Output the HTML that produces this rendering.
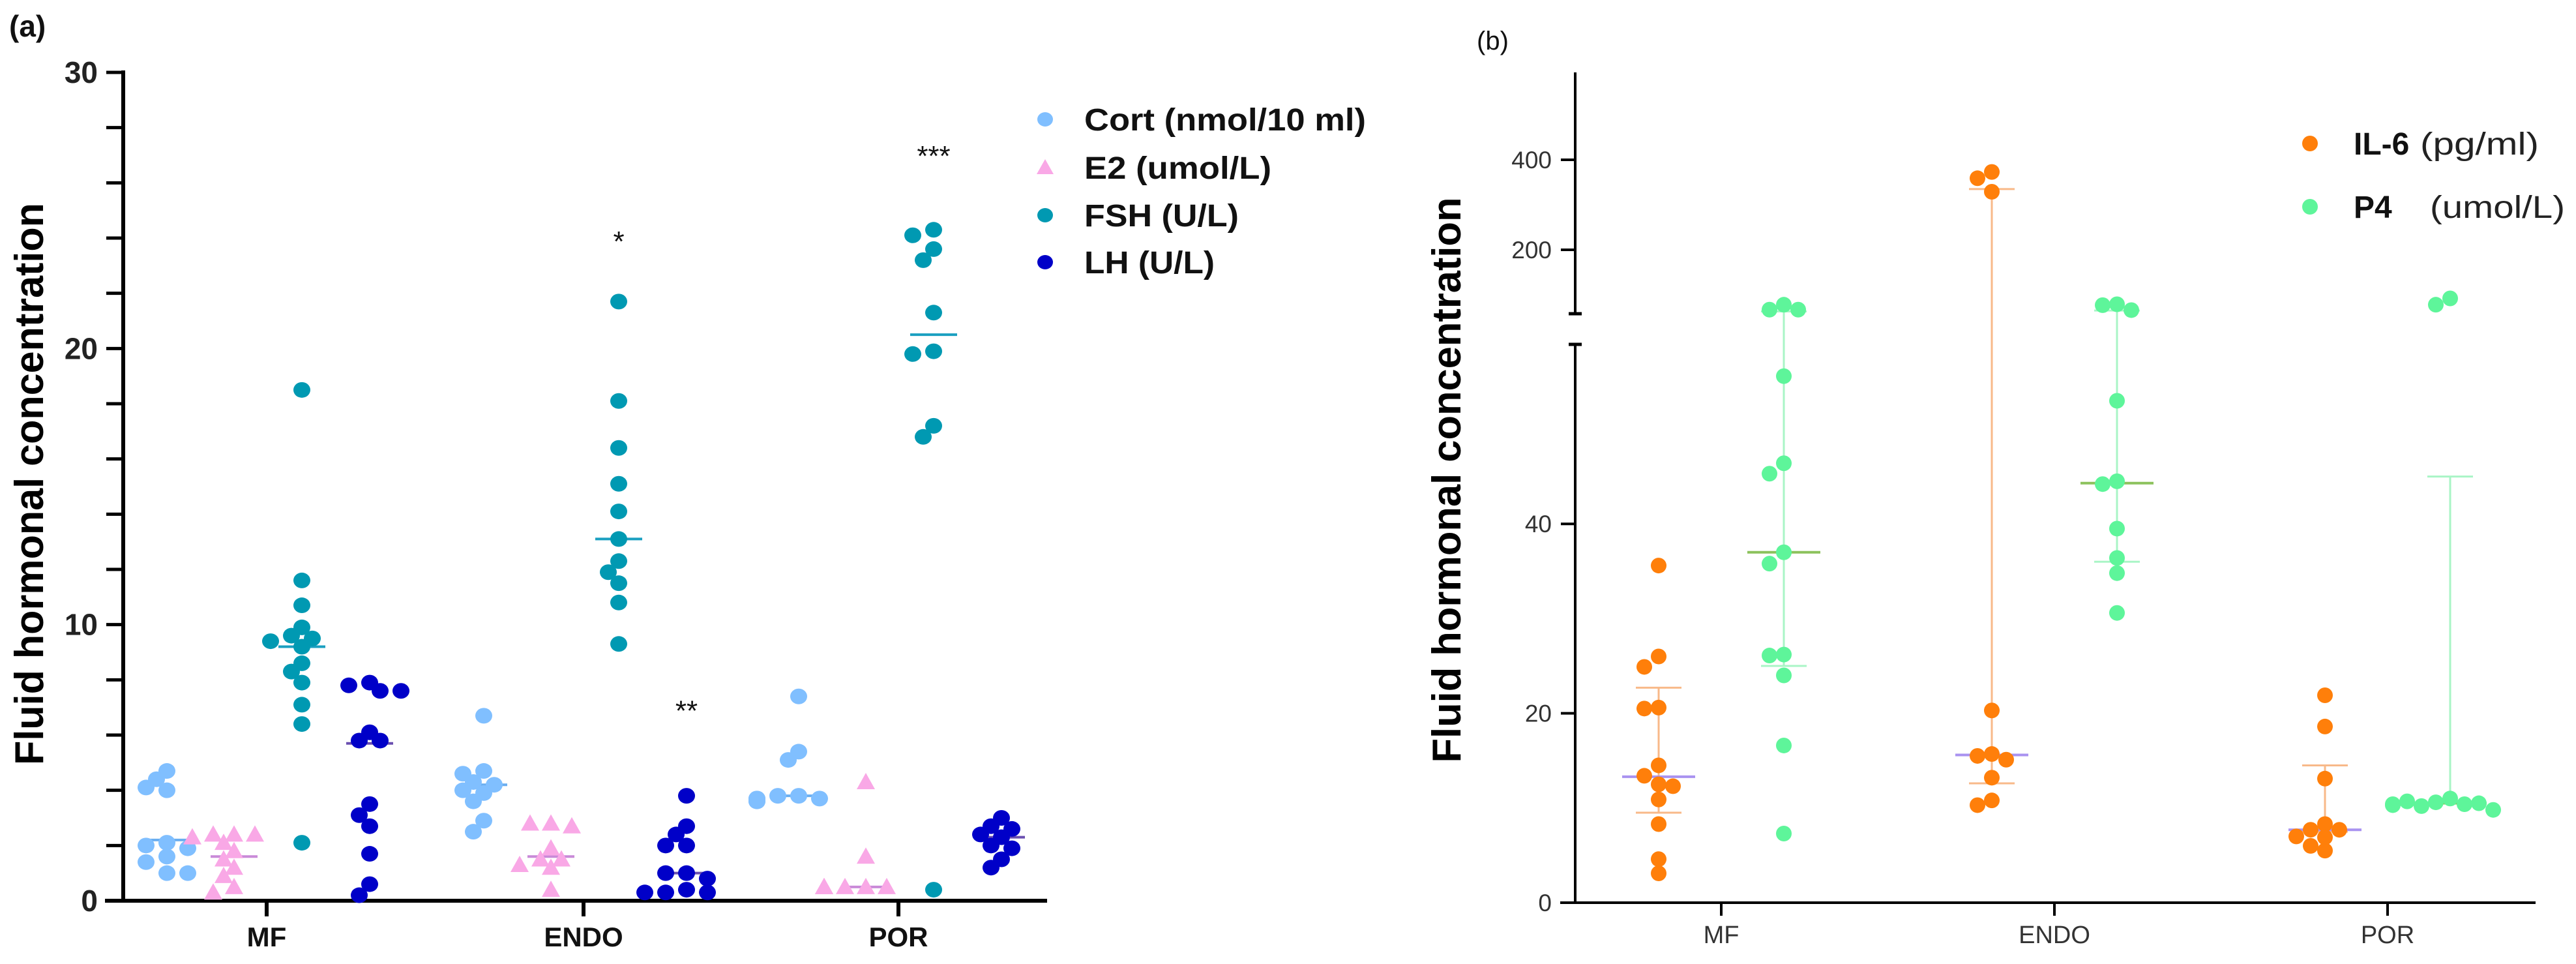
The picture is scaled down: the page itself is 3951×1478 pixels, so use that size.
<!DOCTYPE html>
<html><head><meta charset="utf-8"><style>
html,body{margin:0;padding:0;background:#fff;}
svg{display:block;font-family:"Liberation Sans",Arial,sans-serif;}
</style></head><body>
<svg id="fig" width="3951" height="1478" viewBox="0 0 3951 1478" xmlns="http://www.w3.org/2000/svg">
<g id="pa"></g>
<g id="pb"></g>
</svg>
<script>
// ---------- Panel (a) data ----------
const catsA = ["MF","ENDO","POR"];
const seriesA = ["Cort (nmol/10 ml)","E2 (umol/L)","FSH (U/L)","LH (U/L)"];
const cortVals = [[4.7,4.4,4.0,4.1,2.1,2.0,1.9,1.6,1.4,1.0,1.0],[6.7,4.7,4.6,4.3,4.2,4.0,3.9,3.6,2.9,2.5],[7.4,5.4,5.1,3.8,3.8,3.7,3.7,3.7,3.6,3.6]];
const e2Vals = [[2.4,2.4,2.4,2.3,2.1,1.8,1.5,1.2,0.9,0.5,0.3],[2.8,2.8,2.7,1.9,1.5,1.5,1.3,1.2,0.4],[4.3,1.6,0.5,0.5,0.5,0.5,0.5,0.5,0.5]];
const fshVals = [[18.5,11.6,10.7,9.9,9.6,9.5,9.4,9.2,8.6,8.3,7.9,7.1,6.4,2.1],[21.7,18.1,16.4,15.1,14.1,13.1,12.3,11.9,11.5,10.8,9.3],[24.3,24.1,23.6,23.2,21.3,19.9,19.8,17.2,16.8,0.4]];
const lhVals = [[7.9,7.8,7.6,7.6,6.1,5.8,5.8,3.5,3.1,2.7,1.7,0.6,0.2],[3.8,2.7,2.4,2.0,2.0,1.0,1.0,0.8,0.4,0.3,0.3,0.3],[3.0,2.7,2.6,2.4,2.3,2.0,1.9,1.5,1.2]];
const medA = [[2.2,1.6,9.2,5.7],[4.2,1.6,13.1,1.0],[3.8,0.5,20.5,2.3]];
const starsA = [{cat:1,ser:2,v:24.0,t:"*"},{cat:1,ser:3,v:7.0,t:"**"},{cat:2,ser:2,v:27.1,t:"***"}];
const ticksA = [0,10,20,30];

// ---------- Panel (b) data ----------
const catsB = ["MF","ENDO","POR"];
const il6Vals = [[35.6,26.0,24.9,20.6,20.5,14.5,13.4,12.5,12.3,10.9,8.3,4.6,3.1],[373,359,329,20.3,15.7,15.5,15.1,13.2,10.8,10.3],[21.9,18.6,13.1,8.3,7.7,7.7,7.0,6.9,6.0,5.5]];
const p4Vals = [[78,67,67,55.6,46.4,45.3,37.0,35.8,26.2,26.1,24.0,16.6,7.3],[79,77,66,53,44.5,44.2,39.5,36.4,34.8,30.6],[92,78,11.0,10.6,10.4,10.2,10.5,10.7,9.8,10.4,10.3]];
const il6Med = [13.3,15.6,7.7];
const il6Lo = [9.5,12.6,7.5];
const il6Hi = [22.7,335,14.5];
const p4Med = [37.0,44.3,10.5];
const p4Lo = [25.0,36.0,10.5];
const p4Hi = [63,65,45];
const ticksBLow = [0,20,40];
const ticksBHigh = [200,400];

const NS="http://www.w3.org/2000/svg";
function mk(parent,tag,attrs){const e=document.createElementNS(NS,tag);for(const k in attrs)e.setAttribute(k,attrs[k]);parent.appendChild(e);return e;}
function txt(parent,x,y,s,attrs){const e=mk(parent,'text',Object.assign({x:x,y:y},attrs));e.textContent=s;return e;}

function swarm(xc,ys,minD,step){const placed=[];const out=[];
 ys.forEach(y=>{let k=0,x=xc;
  while(true){const o=(k===0)?0:(k%2===1?-Math.ceil(k/2):Math.ceil(k/2))*step;x=xc+o;
   if(!placed.some(p=>Math.hypot(p[0]-x,p[1]-y)<minD)||k>6)break;k++;}
  placed.push([x,y]);out.push(x);});return out;}

// ================= Panel A =================
const pa=document.getElementById('pa');
const AX0=189,AY0=1381,AYT=111,AXE=1606;
function ya(v){return AY0-v*(AY0-AYT)/30;}
const catX=[409,895,1378];
const serOff=[-153,-50,54,158];
const colA=["#80bfff","#f9a8e6","#0099b2","#0000c8"];
const medColA=["#6aaef0","#c98ad8","#1a9fc0","#6a4fb0"];

txt(pa,14,56,"(a)",{'font-size':46,'font-weight':'bold','fill':'#111',});
const ytA=txt(pa,0,0,"Fluid hormonal concentration",{'font-size':62,'font-weight':'bold','fill':'#000','text-anchor':'middle','transform':'translate(66,742) rotate(-90)','textLength':862,'lengthAdjust':'spacingAndGlyphs'});



mk(pa,'line',{x1:AX0,y1:AYT-3,x2:AX0,y2:AY0+3,stroke:'#000','stroke-width':6,});
mk(pa,'line',{x1:161,y1:AY0,x2:AXE,y2:AY0,stroke:'#000','stroke-width':6,});
for(let v=0;v<=30;v+=2){
 const t=mk(pa,'line',{x1:AX0-26,y1:ya(v),x2:AX0,y2:ya(v),stroke:'#000','stroke-width':5});
 
 
}
ticksA.forEach(v=>{
 const t=txt(pa,150,ya(v)+16,String(v),{'font-size':46,'font-weight':'bold','fill':'#222','text-anchor':'end'});
 
 
});
catsA.forEach((c,i)=>{
 const t=mk(pa,'line',{x1:catX[i],y1:AY0,x2:catX[i],y2:AY0+24,stroke:'#000','stroke-width':6});
 
 
 const l=txt(pa,catX[i],AY0+70,c,{'font-size':42,'font-weight':'bold','fill':'#111','text-anchor':'middle'});
 
 
});
const allA=[cortVals,e2Vals,fshVals,lhVals];
allA.forEach((ser,s)=>{
 ser.forEach((vals,c)=>{
  const xc=catX[c]+serOff[s];
  const ys=vals.map(ya);
  const xs=swarm(xc,ys,20,16);
  const m=mk(pa,'line',{x1:xc-36,x2:xc+36,y1:ya(medA[c][s]),y2:ya(medA[c][s]),stroke:medColA[s],'stroke-width':4});
  
  
  vals.forEach((v,i)=>{
   let e;
   if(s===1){const x=xs[i],y=ys[i];
    e=mk(pa,'polygon',{points:`${x},${y-14} ${x-14},${y+11} ${x+14},${y+11}`,fill:colA[s]});
   } else {
    e=mk(pa,'ellipse',{cx:xs[i],cy:ys[i],rx:13,ry:12,fill:colA[s]});
   }
   
   
  });
 });
});
starsA.forEach(st=>{
 const t=txt(pa,catX[st.cat]+serOff[st.ser],ya(st.v)+20,st.t,{'font-size':44,'fill':'#111','text-anchor':'middle'});
 
 
});
const legY=[183,257,330,402];
seriesA.forEach((s,i)=>{
 let m;
 if(i===1){m=mk(pa,'polygon',{points:`1603,${legY[i]-13} 1590,${legY[i]+10} 1616,${legY[i]+10}`,fill:colA[i]});}
 else{m=mk(pa,'ellipse',{cx:1603,cy:legY[i],rx:12,ry:11,fill:colA[i]});}
 
 
 const w=[432,287,237,200][i];
 const t=txt(pa,1663,legY[i]+17,s,{'font-size':48,'font-weight':'bold','fill':'#111','textLength':w,'lengthAdjust':'spacingAndGlyphs'});
 
 
});

// ================= Panel B =================
const pb=document.getElementById('pb');
const BX0=2416,BY0=1384,BXE=3889;
const LOWMAX=59,HIGHMIN=58;
function yb(v){ if(v<=LOWMAX) return BY0-v*14.52; return 383-(v-200)*0.69; }
const catXB=[2640,3151,3662];
const colB=["#ff7f0a","#5ef59a"];
const errColB=["#f8b989","#a9f5c6"];
const medColB=["#a992f0","#8cc25c"];

txt(pb,2265,76,"(b)",{'font-size':40,'fill':'#111',});
const ytB=txt(pb,0,0,"Fluid hormonal concentration",{'font-size':62,'font-weight':'bold','fill':'#000','text-anchor':'middle','transform':'translate(2240,736) rotate(-90)','textLength':867,'lengthAdjust':'spacingAndGlyphs'});



mk(pb,'line',{x1:BX0,y1:111,x2:BX0,y2:481,stroke:'#000','stroke-width':4,});
mk(pb,'line',{x1:BX0,y1:528,x2:BX0,y2:BY0+2,stroke:'#000','stroke-width':4,});
mk(pb,'line',{x1:BX0-10,y1:481,x2:BX0+10,y2:481,stroke:'#000','stroke-width':5,});
mk(pb,'line',{x1:BX0-10,y1:528,x2:BX0+10,y2:528,stroke:'#000','stroke-width':5,});
mk(pb,'line',{x1:2393,y1:BY0,x2:BXE,y2:BY0,stroke:'#000','stroke-width':4,});
ticksBLow.concat(ticksBHigh).forEach(v=>{
 const t=mk(pb,'line',{x1:BX0-22,y1:yb(v),x2:BX0,y2:yb(v),stroke:'#000','stroke-width':4});
 
 
 const l=txt(pb,2380,yb(v)+13,String(v),{'font-size':37,'fill':'#333','text-anchor':'end'});
 
 
});
catsB.forEach((c,i)=>{
 const t=mk(pb,'line',{x1:catXB[i],y1:BY0,x2:catXB[i],y2:BY0+20,stroke:'#000','stroke-width':4});
 
 
 const l=txt(pb,catXB[i],BY0+62,c,{'font-size':38,'fill':'#333','text-anchor':'middle'});
 
 
});
function errBar(xc,lo,hi,col,name){
 const segs=[];
 const top=Math.min(hi,LOWMAX);
 if(lo<=LOWMAX) segs.push([lo,top]);
 if(hi>LOWMAX) segs.push([Math.max(lo,HIGHMIN),hi]);
 segs.forEach(sg=>{
  const e=mk(pb,'line',{x1:xc,x2:xc,y1:yb(sg[0]),y2:yb(sg[1]),stroke:col,'stroke-width':3});
  
  
 });
 [lo,hi].forEach(v=>{
  const c=mk(pb,'line',{x1:xc-35,x2:xc+35,y1:yb(v),y2:yb(v),stroke:col,'stroke-width':3});
  
  
 });
}
const allB=[il6Vals,p4Vals];
const medB=[il6Med,p4Med],loB=[il6Lo,p4Lo],hiB=[il6Hi,p4Hi];
const offB=[-96,96];
allB.forEach((ser,s)=>{
 ser.forEach((vals,c)=>{
  const xc=catXB[c]+offB[s];
  errBar(xc,loB[s][c],hiB[s][c],errColB[s],'error-bar-b-'+s);
  const m=mk(pb,'line',{x1:xc-56,x2:xc+56,y1:yb(medB[s][c]),y2:yb(medB[s][c]),stroke:medColB[s],'stroke-width':4});
  
  
  const ys=vals.map(yb);
  const xs=swarm(xc,ys,20,22);
  vals.forEach((v,i)=>{
   const e=mk(pb,'ellipse',{cx:xs[i],cy:ys[i],rx:12,ry:12,fill:colB[s]});
   
   
  });
 });
});
[["IL-6","(pg/ml)",220,3712,182],["P4","(umol/L)",317,3727,207]].forEach((r,i)=>{
 const m=mk(pb,'ellipse',{cx:3543,cy:r[2],rx:12,ry:12,fill:colB[i]});
 
 
 const t=txt(pb,3610,r[2]+17,r[0],{'font-size':48,'font-weight':'bold','fill':'#111'});
 
 
 const u=txt(pb,r[3],r[2]+17,r[1],{'font-size':48,'fill':'#222','textLength':r[4],'lengthAdjust':'spacingAndGlyphs'});
 
 
});
</script>
</body></html>
